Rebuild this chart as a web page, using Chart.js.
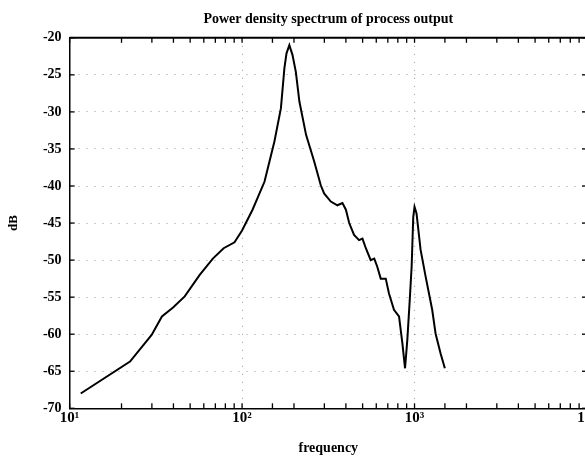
<!DOCTYPE html>
<html>
<head>
<meta charset="utf-8">
<script src="https://cdn.jsdelivr.net/npm/chart.js@4"></script>
<style>
  html, body { margin: 0; padding: 0; background: #fff; overflow: hidden; }
  #wrap { width: 585px; height: 457px; overflow: hidden; }
  canvas { display: block; }
</style>
</head>
<body>
<div id="wrap"><canvas id="c" width="600" height="457"></canvas></div>
<script>
// Data
const frequency = [11.6, 22.4, 29.9, 34.3, 39.8, 46.5, 56.8, 67.7, 78.2, 90.4, 100, 115, 135, 154, 168, 176, 181, 188, 196, 205, 215, 235, 262, 286, 299, 327, 357, 382, 400, 418, 446, 477, 499, 522, 557, 584, 608, 637, 681, 711, 760, 813, 850, 881, 908, 938, 962, 983, 1000, 1027, 1084, 1159, 1266, 1324, 1416, 1499];
const powerDb = [-68.0, -63.7, -60.1, -57.6, -56.4, -54.9, -52.0, -49.8, -48.4, -47.6, -46.0, -43.2, -39.4, -34.0, -29.5, -24.1, -22.1, -21.0, -22.3, -24.6, -28.6, -33.1, -36.7, -39.9, -41.0, -42.1, -42.6, -42.3, -43.2, -45.0, -46.6, -47.3, -47.1, -48.4, -50.0, -49.8, -50.9, -52.5, -52.5, -54.5, -56.7, -57.6, -61.2, -64.6, -60.8, -55.4, -50.9, -44.2, -42.8, -43.7, -48.6, -52.2, -56.7, -59.9, -62.6, -64.6];
const yTickValues = [-70, -65, -60, -55, -50, -45, -40, -35, -30, -25, -20];
const xDecades = [10, 100, 1000, 10000];
const supers = {1: '\u00B9', 2: '\u00B2', 3: '\u00B3', 4: '\u2074'};

const serif = "'Liberation Serif', 'DejaVu Serif', serif";

function isDecade(v) {
  return xDecades.some(d => Math.abs(d - v) < 1e-6 * d);
}

const frame = {
  id: 'frame',
  afterDraw(chart) {
    const { ctx, chartArea: a, scales } = chart;
    ctx.save();
    ctx.strokeStyle = '#000';
    ctx.lineWidth = 2;
    ctx.beginPath(); ctx.moveTo(a.left, a.top); ctx.lineTo(a.right, a.top); ctx.stroke();
    ctx.beginPath(); ctx.moveTo(a.right, a.top); ctx.lineTo(a.right, a.bottom); ctx.stroke();
    ctx.lineWidth = 1.3;
    const xs = scales.x;
    xs.ticks.forEach(t => {
      const px = xs.getPixelForValue(t.value);
      if (px < a.left - 0.5 || px > a.right + 0.5) return;
      const len = 5;
      ctx.beginPath(); ctx.moveTo(px, a.bottom); ctx.lineTo(px, a.bottom - len); ctx.stroke();
      ctx.beginPath(); ctx.moveTo(px, a.top); ctx.lineTo(px, a.top + len); ctx.stroke();
    });
    const ys = scales.y;
    ys.ticks.forEach(t => {
      const py = ys.getPixelForValue(t.value);
      ctx.beginPath(); ctx.moveTo(a.left, py); ctx.lineTo(a.left + 5, py); ctx.stroke();
      ctx.beginPath(); ctx.moveTo(a.right, py); ctx.lineTo(a.right - 5, py); ctx.stroke();
    });
    ctx.restore();
  }
};

new Chart(document.getElementById('c'), {
  type: 'line',
  data: {
    datasets: [{
      data: frequency.map((f, i) => ({ x: f, y: powerDb[i] })),
      borderColor: '#000',
      borderWidth: 2,
      pointRadius: 0,
      fill: false,
      tension: 0
    }]
  },
  options: {
    responsive: false,
    animation: false,
    devicePixelRatio: 1,
    layout: { padding: { left: 0, right: 13, top: 0, bottom: 0 } },
    plugins: {
      legend: { display: false },
      tooltip: { enabled: false },
      title: {
        display: true,
        text: 'Power density spectrum of process output',
        color: '#000',
        fullSize: false,
        font: { family: serif, size: 14, weight: 'bold', lineHeight: 1.2 },
        padding: { top: 11, bottom: 10 }
      }
    },
    scales: {
      x: {
        type: 'logarithmic',
        min: 10,
        max: 10000,
        afterFit(s) { s.height = 48.7; },
        grid: {
          color: ctx => (ctx.tick && isDecade(ctx.tick.value)) ? 'rgba(0,0,0,0.4)' : 'rgba(0,0,0,0)',
          lineWidth: 1,
          drawTicks: false
        },
        border: { display: true, color: '#000', width: 1.5, dash: [1, 7] },
        ticks: {
          autoSkip: false,
          maxRotation: 0,
          padding: 1,
          color: '#000',
          font: { family: serif, size: 15, weight: 'bold' },
          callback(v) {
            if (isDecade(Number(v))) return '10' + supers[Math.round(Math.log10(v))];
            return '';
          }
        },
        title: {
          display: true,
          text: 'frequency',
          color: '#000',
          font: { family: serif, size: 14, weight: 'bold' },
          padding: { top: 0, bottom: 0 }
        }
      },
      y: {
        min: -70,
        max: -20,
        afterFit(s) { s.width = 69.6; },
        afterBuildTicks(s) { s.ticks = yTickValues.map(v => ({ value: v })); },
        grid: { color: 'rgba(0,0,0,0.4)', lineWidth: 1, drawTicks: false },
        border: { display: true, color: '#000', width: 1.5, dash: [1, 7] },
        ticks: {
          padding: 8,
          color: '#000',
          font: { family: serif, size: 14, weight: 'bold' }
        },
        title: {
          display: true,
          text: 'dB',
          color: '#000',
          font: { family: serif, size: 13, weight: 'bold' },
          padding: { top: 6, bottom: 0 }
        }
      }
    }
  },
  plugins: [frame]
});
</script>
</body>
</html>
